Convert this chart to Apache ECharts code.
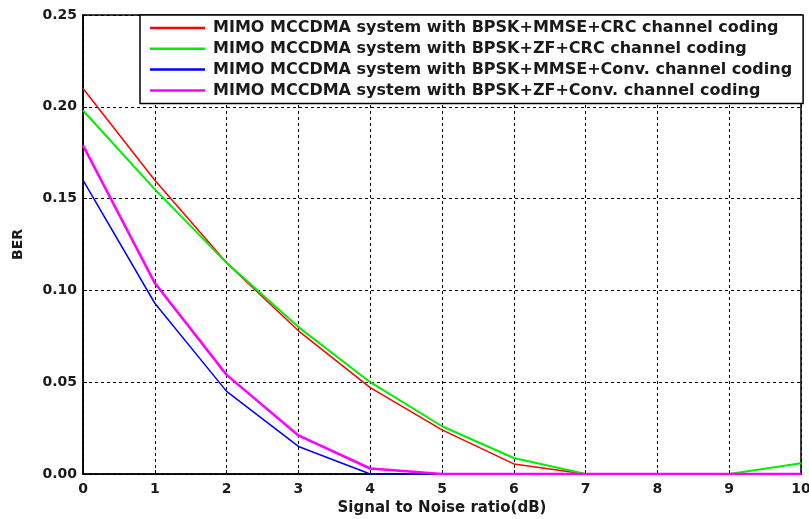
<!DOCTYPE html>
<html>
<head>
<meta charset="utf-8">
<script src="https://cdn.jsdelivr.net/npm/echarts@6/dist/echarts.min.js"></script>
<style>
  html, body { margin: 0; padding: 0; background: #fff; }
  #chart { width: 809px; height: 519px; }
</style>
</head>
<body>
<div id="chart"></div>
<script>
  // SNR in dB (x axis)
  var snr = [0, 1, 2, 3, 4, 5, 6, 7, 8, 9, 10];

  var berMmseCrc  = [0.210, 0.160, 0.115, 0.078, 0.047, 0.024, 0.0055, 0, 0, 0, 0];
  var berZfCrc    = [0.198, 0.155, 0.115, 0.080, 0.050, 0.026, 0.0087, 0, 0, 0, 0.0058];
  var berMmseConv = [0.160, 0.093, 0.045, 0.015, 0, 0, 0, 0, 0, 0, 0];
  var berZfConv   = [0.179, 0.104, 0.054, 0.021, 0.003, 0, 0, 0, 0, 0, 0];

  var seriesNames = [
    "MIMO MCCDMA system with BPSK+MMSE+CRC channel coding",
    "MIMO MCCDMA system with BPSK+ZF+CRC channel coding",
    "MIMO MCCDMA system with BPSK+MMSE+Conv. channel coding",
    "MIMO MCCDMA system with BPSK+ZF+Conv. channel coding"
  ];
  var seriesColors = ["#ff0000", "#00ee00", "#0000ff", "#ff00ff"];
  var seriesWidths = [1.5, 2, 1.5, 2.5];

  var FONT = "DejaVu Sans, Verdana, sans-serif";
  var INK = "#1a1a1a";

  function pairs(ys) {
    return ys.map(function (y, i) { return [snr[i], y]; });
  }

  var allData = [berMmseCrc, berZfCrc, berMmseConv, berZfConv];
  var series = allData.map(function (d, i) {
    return {
      name: seriesNames[i],
      type: "line",
      data: pairs(d),
      symbol: "none",
      lineStyle: { color: seriesColors[i], width: seriesWidths[i] },
      itemStyle: { color: seriesColors[i] },
      animation: false
    };
  });

  var gridLine = { show: true, lineStyle: { color: "#000", type: [3, 3], width: 1 } };

  var option = {
    animation: false,
    textStyle: { fontFamily: FONT },
    grid: {
      left: 83, right: 8, top: 15, bottom: 45,
      outerBoundsMode: "none", containLabel: false,
      show: true, borderColor: "#000", borderWidth: 1.5, backgroundColor: "#fff"
    },
    legend: {
      orient: "vertical",
      left: 140, top: 15,
      padding: [4, 11, 4, 10],
      icon: "rect",
      itemWidth: 55, itemHeight: 2.5, itemGap: 2.8,
      backgroundColor: "#fff",
      borderColor: "#000", borderWidth: 1.5, borderRadius: 0,
      textStyle: { fontFamily: FONT, fontWeight: "bold", fontSize: 16, lineHeight: 18,
                   color: INK, padding: [0, 0, 0, 3] },
      data: seriesNames
    },
    xAxis: {
      type: "value", min: 0, max: 10, interval: 1,
      name: "Signal to Noise ratio(dB)", nameLocation: "middle", nameGap: 26,
      nameTextStyle: { fontWeight: "bold", fontSize: 15, color: INK },
      axisLine: { show: true, lineStyle: { color: "#000", width: 1.5 } },
      axisTick: { show: true, inside: true, length: 4, lineStyle: { color: "#000" } },
      axisLabel: { fontWeight: "bold", fontSize: 14, color: INK, margin: 8 },
      splitLine: gridLine
    },
    yAxis: {
      type: "value", min: 0, max: 0.25, interval: 0.05,
      name: "BER", nameLocation: "middle", nameGap: 58, nameRotate: 90,
      nameTextStyle: { fontWeight: "bold", fontSize: 14, color: INK },
      axisLine: { show: true, lineStyle: { color: "#000", width: 1.5 } },
      axisTick: { show: true, inside: true, length: 4, lineStyle: { color: "#000" } },
      axisLabel: { fontWeight: "bold", fontSize: 14, color: INK, margin: 6,
                   formatter: function (v) { return v.toFixed(2); } },
      splitLine: gridLine
    },
    series: series
  };

  var chart = echarts.init(document.getElementById("chart"), null, { renderer: "canvas" });
  chart.setOption(option);
</script>
</body>
</html>
